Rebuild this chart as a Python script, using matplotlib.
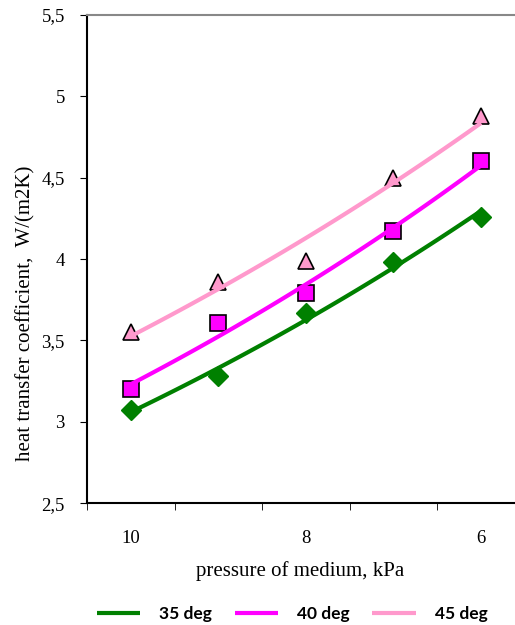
"""
Heat transfer coefficient vs. pressure of medium, with exponential trend lines.
"""
import matplotlib
matplotlib.use("Agg")
import matplotlib.pyplot as plt
import numpy as np
from matplotlib.ticker import FixedLocator, FuncFormatter

pressure = ["10", "9", "8", "7", "6"]
shown_labels = ["10", "", "8", "", "6"]

series_names = ["35 deg", "40 deg", "45 deg"]
h_35 = [3.07, 3.28, 3.67, 3.98, 4.26]
h_40 = [3.20, 3.61, 3.79, 4.17, 4.60]
h_45 = [3.55, 3.86, 3.99, 4.50, 4.88]

COLORS = ["#008000", "#ff00ff", "#ff99cc"]
MARKERS = [
    dict(marker="D", markersize=10, markerfacecolor="#008000", markeredgecolor="#008000"),
    dict(marker="s", markersize=12, markerfacecolor="#ff00ff", markeredgecolor="black", markeredgewidth=1.2),
    dict(marker="^", markersize=11, markerfacecolor="#ff99cc", markeredgecolor="black", markeredgewidth=1.2),
]

plt.rcParams["font.family"] = ["Liberation Serif", "DejaVu Serif"]

fig = plt.figure(figsize=(5.15, 6.25), dpi=100)
ax = fig.add_axes([0.169, 0.195, 0.850, 0.781])

x = np.arange(len(pressure))
x_fine = np.linspace(x[0], x[-1], 100)
handles = []
for vals, name, color, mk in zip([h_35, h_40, h_45], series_names, COLORS, MARKERS):
    ax.plot(x, vals, linestyle="none", zorder=3, **mk)
    # exponential trend line, fitted like the spreadsheet does
    b, ln_a = np.polyfit(x, np.log(vals), 1)
    (ln,) = ax.plot(x_fine, np.exp(ln_a + b * x_fine), color=color, lw=3, zorder=4,
                    solid_capstyle="butt", label=name)
    handles.append(ln)

ax.set_xlim(-0.5, len(pressure) - 0.5)
ax.set_ylim(2.5, 5.5)
ax.set_yticks(np.arange(2.5, 5.51, 0.5))
ax.yaxis.set_major_formatter(FuncFormatter(lambda v, _: f"{v:g}".replace(".", ",")))

ax.xaxis.set_major_locator(FixedLocator(x))
ax.set_xticklabels(shown_labels)
ax.xaxis.set_minor_locator(FixedLocator(np.arange(-0.5, len(pressure), 1.0)))
ax.tick_params(axis="x", which="major", length=0, pad=19, labelsize=13.5)
ax.tick_params(axis="x", which="minor", length=5, direction="out")
ax.tick_params(axis="y", length=5, direction="out", labelsize=13.5, pad=11)

ax.spines["right"].set_visible(False)
ax.spines["top"].set_color("#888888")
ax.spines["top"].set_linewidth(1.5)
ax.spines["left"].set_linewidth(1.5)
ax.spines["bottom"].set_linewidth(1.5)

ax.set_xlabel("pressure of medium, kPa", fontsize=15)
ax.xaxis.set_label_coords(0.486, -0.118)
ax.set_ylabel("heat transfer coefficient,  W/(m2K)", fontsize=15)
ax.yaxis.set_label_coords(-0.118, 0.389)

fig.legend(handles=handles, labels=series_names, loc="center left",
           bbox_to_anchor=(0.188, 0.018), ncol=3, frameon=False,
           borderpad=0, borderaxespad=0,
           prop=dict(family="Lato", weight="bold", size=12.5),
           handlelength=2.5, columnspacing=1.3, handletextpad=1.1)

fig.savefig("out.png", dpi=100)
